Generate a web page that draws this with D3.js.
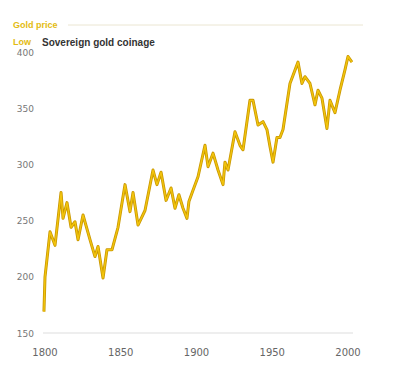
<!DOCTYPE html>
<html>
<head>
<meta charset="utf-8">
<script src="https://cdn.jsdelivr.net/npm/d3@7"></script>
<style>
  body { margin: 0; background: #fff; }
  svg { display: block; }
</style>
</head>
<body>
<div class="chart"></div>
<script>
// data
var years = [1799.3, 1800, 1803.3, 1806.6, 1810.6, 1811.9, 1814.5, 1817.2, 1819.8, 1821.8,
             1825.1, 1829.7, 1833, 1835, 1838.3, 1840.9, 1844.2, 1848.2, 1852.8, 1856.1,
             1858.1, 1861.4, 1866, 1871.3, 1873.9, 1876.6, 1879.9, 1883.2, 1885.8, 1888.4,
             1891.1, 1893.7, 1895, 1897.7, 1901, 1905.6, 1907.6, 1910.9, 1914.2, 1917.5,
             1918.8, 1920.8, 1925.4, 1928.7, 1930.7, 1935.3, 1937.3, 1940.6, 1943.9, 1946.5,
             1948.5, 1950.5, 1953.1, 1955.1, 1957.1, 1961.7, 1967, 1969.6, 1971.6, 1974.9,
             1978.2, 1980.2, 1982.8, 1986.1, 1988.1, 1991.4, 1994.7, 1998, 2000, 2002.6];
var prices = [169, 200, 240, 228, 275, 252, 266, 244, 249, 233,
              255, 233, 218, 227, 199, 224, 224, 244, 282, 258,
              275, 246, 259, 295, 282, 293, 268, 279, 261, 273,
              261, 252, 267, 277, 289, 317, 298, 310, 295, 282,
              302, 295, 329, 317, 313, 357, 357, 335, 338, 331,
              316, 302, 324, 324, 331, 372, 391, 372, 378, 372,
              353, 366, 359, 332, 357, 346, 366, 384, 396, 391];
var yTicks = [150, 200, 250, 300, 350, 400];
var xTicks = [1800, 1850, 1900, 1950, 2000];

var width = 403, height = 379;

var svg = d3.select(".chart").append("svg")
            .attr("width", width)
            .attr("height", height);

var x = d3.scaleLinear().domain([1800, 2000]).range([45, 348]);
var y = d3.scaleLinear().domain([150, 400]).range([333, 52]);

// title
svg.append("text")
   .attr("x", 13)
   .attr("y", 28)
   .style("font-family", "Liberation Sans, Arial, sans-serif")
   .style("font-size", "9px")
   .style("font-weight", "bold")
   .style("fill", "#e3bb12")
   .text("Gold price");

svg.append("line")
   .attr("x1", 68).attr("x2", 363)
   .attr("y1", 25).attr("y2", 25)
   .style("stroke", "#ebe6d2")
   .style("stroke-width", 1);

// legend
svg.append("text")
   .attr("x", 13)
   .attr("y", 45)
   .style("font-family", "Liberation Sans, Arial, sans-serif")
   .style("font-size", "9px")
   .style("font-weight", "bold")
   .style("fill", "#e3bb12")
   .text("Low");

svg.append("text")
   .attr("x", 42)
   .attr("y", 46)
   .style("font-family", "Liberation Sans, Arial, sans-serif")
   .style("font-size", "10px")
   .style("font-weight", "bold")
   .style("fill", "#333")
   .text("Sovereign gold coinage");

// y axis labels
svg.append("g").selectAll("text")
   .data(yTicks)
   .enter().append("text")
   .attr("x", 34)
   .attr("y", function(d){ return y(d) + 3.5; })
   .attr("text-anchor", "end")
   .style("font-family", "DejaVu Sans, sans-serif")
   .style("font-size", "9px")
   .style("fill", "#777")
   .text(function(d){ return d; });

// baseline
svg.append("line")
   .attr("x1", 43).attr("x2", 353)
   .attr("y1", y(150)).attr("y2", y(150))
   .style("stroke", "#ddd")
   .style("stroke-width", 1);

// x axis labels
svg.append("g").selectAll("text")
   .data(xTicks)
   .enter().append("text")
   .attr("x", function(d){ return x(d); })
   .attr("y", 356)
   .attr("text-anchor", "middle")
   .style("font-family", "DejaVu Sans, sans-serif")
   .style("font-size", "10px")
   .style("fill", "#666")
   .text(function(d){ return d; });

// the line
var points = years.map(function(d, i){ return [d, prices[i]]; });
var line = d3.line()
             .x(function(d){ return x(d[0]); })
             .y(function(d){ return y(d[1]); });

svg.append("path")
   .datum(points)
   .attr("d", line)
   .style("fill", "none")
   .style("stroke", "#c99700")
   .style("stroke-width", 3)
   .style("stroke-linejoin", "round");

svg.append("path")
   .datum(points)
   .attr("d", line)
   .style("fill", "none")
   .style("stroke", "#f2c40c")
   .style("stroke-width", 1.4)
   .style("stroke-linejoin", "round");
</script>
</body>
</html>
